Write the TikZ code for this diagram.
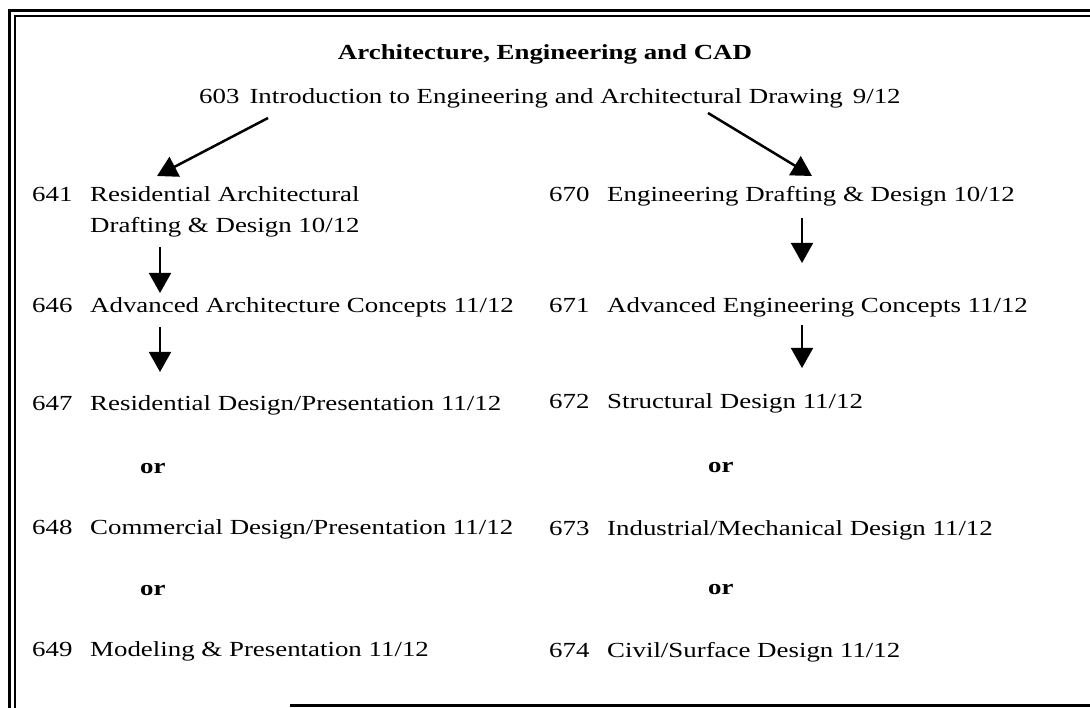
\documentclass[tikz,border=0pt]{standalone}
\usepackage{fontspec}
\setmainfont{Liberation Serif}[FakeStretch=1.25]
\usetikzlibrary{arrows.meta}
\begin{document}
\begin{tikzpicture}[x=1pt,y=-1pt,
  lbl/.style={anchor=base west,inner sep=0pt,font=\fontsize{21.5}{26}\selectfont},
  orlbl/.style={anchor=base west,inner sep=0pt,font=\fontsize{21.5}{26}\selectfont\bfseries},
  ttl/.style={anchor=base,inner sep=0pt,font=\fontsize{21.5}{26}\selectfont\bfseries},
  diag/.style={line width=2.5pt,-{Triangle[length=20pt,width=22pt]}},
  vert/.style={line width=1.7pt,-{Triangle[length=20pt,width=22pt]}},
  outer/.style={line width=3pt},
  inner/.style={line width=2pt}]
\useasboundingbox (0,0) rectangle (1090,708);
% frame
\draw[outer] (9.5,708) -- (9.5,10.5) -- (1090,10.5);
\draw[inner] (15,708) -- (15,16) -- (1090,16);
\draw[outer] (290,705.5) -- (1090,705.5);
% title
\node[ttl] (title) at (545,60) {Architecture, Engineering and CAD};
\node[lbl] (n603) at (199,104) {603\hspace{10pt}Introduction to Engineering and Architectural Drawing\hspace{10pt}9/12};
% left column
\node[lbl] (n641) at (32,202) {641};
\node[lbl] (t641) at (90,202) {Residential Architectural};
\node[lbl] (u641) at (90,233) {Drafting \& Design 10/12};
\node[lbl] (n646) at (32,313) {646};
\node[lbl] (t646) at (90,313) {Advanced Architecture Concepts 11/12};
\node[lbl] (n647) at (32,411) {647};
\node[lbl] (t647) at (90,411) {Residential Design/Presentation 11/12};
\node[orlbl] (or1) at (140,473) {or};
\node[lbl] (n648) at (32,534) {648};
\node[lbl] (t648) at (90,534) {Commercial Design/Presentation 11/12};
\node[orlbl] (or2) at (140,595) {or};
\node[lbl] (n649) at (32,656) {649};
\node[lbl] (t649) at (90,656) {Modeling \& Presentation 11/12};
% right column
\node[lbl] (n670) at (549,202) {670};
\node[lbl] (t670) at (607,202) {Engineering Drafting \& Design 10/12};
\node[lbl] (n671) at (549,313) {671};
\node[lbl] (t671) at (607,313) {Advanced Engineering Concepts 11/12};
\node[lbl] (n672) at (549,409) {672};
\node[lbl] (t672) at (607,409) {Structural Design 11/12};
\node[orlbl] (or3) at (708,472) {or};
\node[lbl] (n673) at (549,535) {673};
\node[lbl] (t673) at (607,535) {Industrial/Mechanical Design 11/12};
\node[orlbl] (or4) at (708,594) {or};
\node[lbl] (n674) at (549,657) {674};
\node[lbl] (t674) at (607,657) {Civil/Surface Design 11/12};
% connector end points
\coordinate (a1s) at (268,118);
\coordinate (a1e) at (157,176);
\coordinate (a2s) at (708,113);
\coordinate (a2e) at (812,176);
\coordinate (a3s) at (160,247);
\coordinate (a3e) at (160,293);
\coordinate (a4s) at (160,327);
\coordinate (a4e) at (160,372);
\coordinate (a5s) at (802,218);
\coordinate (a5e) at (802,263);
\coordinate (a6s) at (802,325);
\coordinate (a6e) at (802,368);
\draw[diag] (a1s) -- (a1e);
\draw[diag] (a2s) -- (a2e);
\draw[vert] (a3s) -- (a3e);
\draw[vert] (a4s) -- (a4e);
\draw[vert] (a5s) -- (a5e);
\draw[vert] (a6s) -- (a6e);
\end{tikzpicture}
\end{document}
